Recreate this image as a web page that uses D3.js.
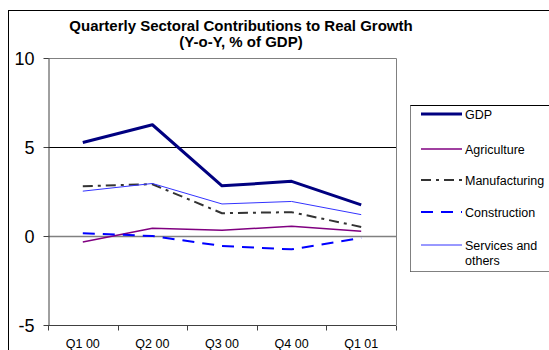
<!DOCTYPE html>
<html>
<head>
<meta charset="utf-8">
<script src="https://cdn.jsdelivr.net/npm/d3@7"></script>
<style>
  html, body { margin: 0; padding: 0; background: #fff; }
  svg { display: block; font-family: Arial, "Liberation Sans", sans-serif; }
</style>
</head>
<body>
<svg id="chart" width="549" height="350"></svg>
<script>
// Quarterly sectoral contributions to real growth (Y-o-Y, % of GDP)
const quarters = ["Q1 00", "Q2 00", "Q3 00", "Q4 00", "Q1 01"];
const gdp           = [5.25, 6.25, 2.82, 3.07, 1.75];
const agriculture   = [-0.34, 0.43, 0.32, 0.55, 0.26];
const manufacturing = [2.8, 2.91, 1.28, 1.34, 0.51];
const construction  = [0.15, 0.0, -0.56, -0.75, -0.11];
const services      = [2.52, 2.95, 1.8, 1.94, 1.2];
const yTicks = [-5, 0, 5, 10];
const titleLines = ["Quarterly Sectoral Contributions to Real Growth", "(Y-o-Y, % of GDP)"];

const series = [
  { name: ["GDP"], values: gdp, color: "#000080", width: 3, dash: null },
  { name: ["Agriculture"], values: agriculture, color: "#800080", width: 1.5, dash: null },
  { name: ["Manufacturing"], values: manufacturing, color: "#333333", width: 2, dash: "10,5,3,5" },
  { name: ["Construction"], values: construction, color: "#0000FF", width: 2, dash: "12,8" },
  { name: ["Services and", "others"], values: services, color: "#3333FF", width: 1, dash: null }
];

const svg = d3.select("#chart");

// outer chart frame
svg.append("rect").attr("x", 8.5).attr("y", 10.5).attr("width", 560).attr("height", 360)
  .attr("fill", "none").attr("stroke", "#000").attr("stroke-width", 1);

const plot = { left: 48, right: 396, top: 58, bottom: 325 };

const x = d3.scaleBand().domain(quarters).range([plot.left, plot.right]);
const y = d3.scaleLinear().domain([-5, 10]).range([plot.bottom, plot.top]);

// title
svg.append("g").selectAll("text").data(titleLines).join("text")
  .attr("x", 241).attr("y", (d, i) => 31 + i * 16)
  .attr("text-anchor", "middle").attr("font-size", 15).attr("font-weight", "bold")
  .text(d => d);

// plot frame (top and right)
svg.append("path")
  .attr("d", `M${plot.left},${y(10) + 0.5}H${plot.right + 0.5}V${plot.bottom}`)
  .attr("fill", "none").attr("stroke", "#808080").attr("stroke-width", 1);

// grid line at 5
svg.append("line")
  .attr("x1", plot.left).attr("x2", plot.right)
  .attr("y1", Math.round(y(5)) + 0.5).attr("y2", Math.round(y(5)) + 0.5)
  .attr("stroke", "#000").attr("stroke-width", 1);

// zero line
svg.append("line")
  .attr("x1", plot.left).attr("x2", plot.right)
  .attr("y1", Math.round(y(0)) + 0.5).attr("y2", Math.round(y(0)) + 0.5)
  .attr("stroke", "#808080").attr("stroke-width", 1.5);

// y axis (plain hyphen for negatives)
const yAxis = svg.append("g")
  .attr("transform", `translate(${plot.left + 0.5},0)`)
  .call(d3.axisLeft(y).tickValues(yTicks).tickSize(5).tickSizeOuter(0).tickFormat(d => String(d)));
yAxis.select(".domain").attr("stroke", "#404040");
yAxis.selectAll(".tick line").attr("stroke", "#404040");
yAxis.selectAll(".tick text").attr("font-size", 18).attr("font-family", "Arial, 'Liberation Sans', sans-serif")
  .attr("fill", "#000").attr("x", -14).attr("dy", "0.35em");

// x axis with ticks between categories
const xAxisG = svg.append("g").attr("transform", `translate(0,${plot.bottom + 0.5})`);
xAxisG.append("line").attr("x1", plot.left).attr("x2", plot.right)
  .attr("stroke", "#404040");
const boundaries = quarters.map(q => x(q)).concat([plot.right]);
xAxisG.selectAll("line.tk").data(boundaries).join("line").attr("class", "tk")
  .attr("x1", d => Math.round(d) + 0.5).attr("x2", d => Math.round(d) + 0.5)
  .attr("y1", 0).attr("y2", 5).attr("stroke", "#404040");
xAxisG.selectAll("text").data(quarters).join("text")
  .attr("x", d => x(d) + x.bandwidth() / 2).attr("y", 22.5)
  .attr("text-anchor", "middle").attr("font-size", 12.5)
  .text(d => d);

// series lines
const line = d3.line()
  .x((d, i) => x(quarters[i]) + x.bandwidth() / 2)
  .y(d => y(d));

svg.append("g").selectAll("path").data(series).join("path")
  .attr("d", d => line(d.values))
  .attr("fill", "none")
  .attr("stroke", d => d.color)
  .attr("stroke-width", d => d.width)
  .attr("stroke-dasharray", d => d.dash)
  .attr("stroke-linejoin", "round");

// legend
const legend = svg.append("g");
legend.append("rect").attr("x", 410.5).attr("y", 105.5).attr("width", 150).attr("height", 166)
  .attr("fill", "#fff").attr("stroke", "#000").attr("stroke-width", 1);
legend.append("line").attr("x1", 410.5).attr("x2", 410.5).attr("y1", 105.5).attr("y2", 271.5)
  .attr("stroke", "#808080");
legend.append("line").attr("x1", 410.5).attr("x2", 549).attr("y1", 271.5).attr("y2", 271.5)
  .attr("stroke", "#808080");
const legendY = [114, 149, 180, 212, 245];
const items = legend.selectAll("g.item").data(series).join("g").attr("class", "item")
  .attr("transform", (d, i) => `translate(0,${legendY[i]})`);
items.append("line").attr("x1", 421).attr("x2", 462).attr("y1", 0).attr("y2", 0)
  .attr("stroke", d => d.color).attr("stroke-width", d => d.width)
  .attr("stroke-dasharray", d => d.dash);
items.append("text").attr("x", 465).attr("y", 4.5).attr("font-size", 12.5)
  .selectAll("tspan").data(d => d.name).join("tspan")
  .attr("x", 465).attr("dy", (d, i) => i === 0 ? 0 : 15)
  .text(d => d);
</script>
</body>
</html>
